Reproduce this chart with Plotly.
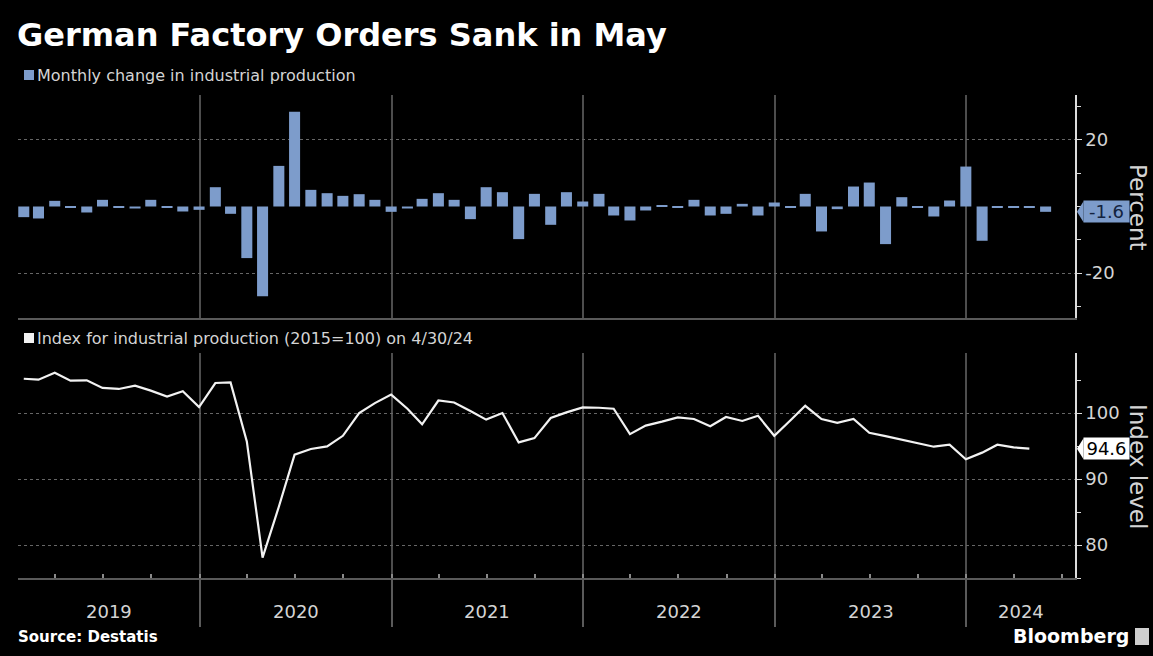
import pandas as pd
import plotly.graph_objects as go

# ---- data -------------------------------------------------------------
# Month-over-month change (%), Jan 2019 - May 2024
mom_change = [
    -3.2, -3.6, 1.7, -0.2, -1.8, 2.0, -0.4, -0.6, 2.0, -0.2, -1.5, -1.0,      # 2019
    5.8, -2.2, -15.5, -27.0, 12.2, 28.5, 5.0, 4.0, 3.2, 3.7, 2.0, -1.6,       # 2020
    -0.6, 2.3, 4.0, 2.0, -3.8, 5.8, 4.3, -9.8, 3.8, -5.5, 4.3, 1.5,           # 2021
    3.8, -2.7, -4.2, -1.2, 0.2, -0.2, 2.0, -2.7, -2.2, 0.8, -2.7, 1.2,        # 2022
    -0.4, 3.8, -7.5, -0.8, 6.0, 7.2, -11.3, 2.8, -0.2, -3.0, 1.8, 12.0,       # 2023
    -10.3, -0.4, -0.4, -0.2, -1.6,                                            # 2024
]

# Index for industrial production (2015=100), Jan 2019 - Apr 2024
index_level = [
    105.2, 105.05, 106.1, 104.9, 104.95, 103.8, 103.65, 104.15, 103.4, 102.5, 103.3, 100.9,
    104.55, 104.65, 95.7, 78.1, 85.8, 93.7, 94.55, 94.95, 96.55, 100.0, 101.5, 102.8,
    100.65, 98.3, 101.9, 101.6, 100.3, 99.0, 100.0, 95.55, 96.2, 99.25, 100.1, 100.85,
    100.8, 100.65, 96.8, 98.1, 98.7, 99.35, 99.1, 98.0, 99.4, 98.8, 99.6, 96.55,
    98.9, 101.1, 99.1, 98.5, 99.1, 97.0, 96.5, 95.95, 95.4, 94.9, 95.2, 93.0,
    94.0, 95.2, 94.8, 94.6,
]

years = [2019, 2020, 2021, 2022, 2023, 2024]
pct_ticks = [-20, 20]
pct_tick_text = ["-20", "20"]
idx_ticks = [80, 90, 100]

# month-end dates for each observation
bar_dates = pd.date_range("2019-02-01", periods=len(mom_change), freq="MS") - pd.Timedelta(days=1)
line_dates = bar_dates[: len(index_level)]

x_start = pd.Timestamp("2019-01-20")
x_end = pd.Timestamp("2024-07-26")

# ---- geometry helpers ---------------------------------------------------
W, H = 1153, 656
L, R, T, B = 18, 1075, 95, 578          # plot area in pixels
PW, PH = R - L, B - T


def px(x):
    return (x - L) / PW


def py(y):
    return (B - y) / PH


TOP_DOMAIN = [py(318), 1.0]
BOT_DOMAIN = [0.0, py(353)]
PCT_RANGE = [-33.5, 33.5]
IDX_RANGE = [75, 109.1]

BAR_COLOR = "#7d9ccb"
GRID = "#4d4d4d"
AXIS = "#dcdcdc"
TEXT = "#d4d4d4"
FONT = "DejaVu Sans"

fig = go.Figure()

fig.add_trace(go.Bar(
    x=bar_dates, y=mom_change, xaxis="x", yaxis="y",
    marker=dict(color=BAR_COLOR, line=dict(width=0)),
    width=21 * 24 * 3600 * 1000, showlegend=False, hoverinfo="x+y",
))
fig.add_trace(go.Scatter(
    x=line_dates, y=index_level, xaxis="x2", yaxis="y2", mode="lines",
    line=dict(color="#f2f2f2", width=2.2), showlegend=False,
))

xcommon = dict(
    type="date", range=[x_start, x_end], tickmode="linear", tick0="2019-01-01",
    dtick="M12", showgrid=True, gridcolor=GRID, gridwidth=1.5,
    showticklabels=False, zeroline=False, showline=True, linecolor="#5a5a5a",
    linewidth=2,
)
ycommon = dict(
    side="right", showgrid=True, gridcolor="#666666", griddash="dot", gridwidth=1,
    zeroline=False, showline=True, linecolor=AXIS, linewidth=1.5,
    ticks="outside", ticklen=5, tickcolor=AXIS, tickwidth=1.2,
    tickfont=dict(family=FONT, size=18, color=TEXT),
)

fig.update_layout(
    width=W, height=H,
    margin=dict(l=L, r=W - R, t=T, b=H - B, autoexpand=False),
    paper_bgcolor="#000000", plot_bgcolor="#000000",
    bargap=0.3, showlegend=False,
    xaxis=dict(xcommon, anchor="y", matches="x2", ticks=""),
    xaxis2=dict(
        xcommon, anchor="y2", ticks="outside", ticklen=47, tickcolor="#5a5a5a",
        tickwidth=1.5,
        minor=dict(ticks="inside", ticklen=4, dtick="M3", tick0="2019-01-01",
                   tickcolor="#8a8a8a", showgrid=False),
    ),
    yaxis=dict(ycommon, domain=TOP_DOMAIN, anchor="x", range=PCT_RANGE,
               tickmode="array", tickvals=pct_ticks, ticktext=pct_tick_text,
               minor=dict(dtick=10, tick0=0, ticks="outside", ticklen=4,
                          tickcolor=AXIS, showgrid=False)),
    yaxis2=dict(ycommon, domain=BOT_DOMAIN, anchor="x2", range=IDX_RANGE,
                tickmode="array", tickvals=idx_ticks,
                minor=dict(dtick=5, tick0=0, ticks="outside", ticklen=4,
                           tickcolor=AXIS, showgrid=False)),
)

annotations = []
shapes = []

# title and panel legends
annotations.append(dict(
    text="<b>German Factory Orders Sank in May</b>", xref="paper", yref="paper",
    x=px(15), y=py(35), xanchor="left", yanchor="middle", showarrow=False,
    font=dict(family=FONT, size=32, color="#ffffff"),
))
legend_items = [
    ("Monthly change in industrial production", BAR_COLOR, 75),
    ("Index for industrial production (2015=100) on 4/30/24", "#f2f2f2", 338),
]
for label, color, ypix in legend_items:
    shapes.append(dict(type="rect", xref="paper", yref="paper",
                       x0=px(24), x1=px(34), y0=py(ypix + 5), y1=py(ypix - 5),
                       fillcolor=color, line=dict(width=0)))
    annotations.append(dict(
        text=label, xref="paper", yref="paper", x=px(35), y=py(ypix),
        xanchor="left", yanchor="middle", showarrow=False,
        font=dict(family=FONT, size=16, color=TEXT),
    ))

# rotated axis titles
for label, ypix in [("Percent", 207), ("Index level", 466)]:
    annotations.append(dict(
        text=label, xref="paper", yref="paper", x=px(1138), y=py(ypix),
        xanchor="center", yanchor="middle", textangle=90, showarrow=False,
        font=dict(family=FONT, size=23, color=TEXT),
    ))

# last-value tags on the right axis
last_tags = [
    ("y", mom_change[-1], "%.1f" % mom_change[-1], BAR_COLOR, "#13233f", PCT_RANGE, TOP_DOMAIN),
    ("y2", index_level[-1], "%.1f" % index_level[-1], "#ffffff", "#000000", IDX_RANGE, BOT_DOMAIN),
]
for yref, val, txt, bg, fg, rng, dom in last_tags:
    annotations.append(dict(
        text=txt, xref="paper", yref=yref, x=px(1083), y=val,
        xanchor="left", yanchor="middle", showarrow=False,
        bgcolor=bg, width=45, height=21, borderpad=0,
        font=dict(family=FONT, size=18, color=fg),
    ))
    units_per_px = (rng[1] - rng[0]) / ((dom[1] - dom[0]) * PH)
    half = 10.5 * units_per_px
    shapes.append(dict(
        type="path", xref="paper", yref=yref,
        path="M %f,%f L %f,%f L %f,%f Z" % (px(1077), val, px(1083.5), val + half,
                                           px(1083.5), val - half),
        fillcolor=bg, line=dict(width=0),
    ))

# year labels centred on the visible part of each year
for yr in years:
    s = max(pd.Timestamp(f"{yr}-01-01"), x_start)
    e = min(pd.Timestamp(f"{yr + 1}-01-01"), x_end)
    mid = s + (e - s) / 2
    annotations.append(dict(
        text=str(yr), xref="x2", yref="paper", x=mid, y=py(611),
        xanchor="center", yanchor="middle", showarrow=False,
        font=dict(family=FONT, size=18, color=TEXT),
    ))

# footer
annotations.append(dict(
    text="<b>Source: Destatis</b>", xref="paper", yref="paper", x=px(16), y=py(637),
    xanchor="left", yanchor="middle", showarrow=False,
    font=dict(family=FONT, size=15, color="#ffffff"),
))
annotations.append(dict(
    text="<b>Bloomberg</b>", xref="paper", yref="paper", x=px(1131), y=py(636),
    xanchor="right", yanchor="middle", showarrow=False,
    font=dict(family=FONT, size=19, color="#ffffff"),
))
shapes.append(dict(type="rect", xref="paper", yref="paper",
                   x0=px(1135), x1=px(1149), y0=py(645), y1=py(628),
                   fillcolor="#cfcfcf", line=dict(width=0)))

fig.update_layout(annotations=annotations, shapes=shapes)
fig.write_html("out.html")
